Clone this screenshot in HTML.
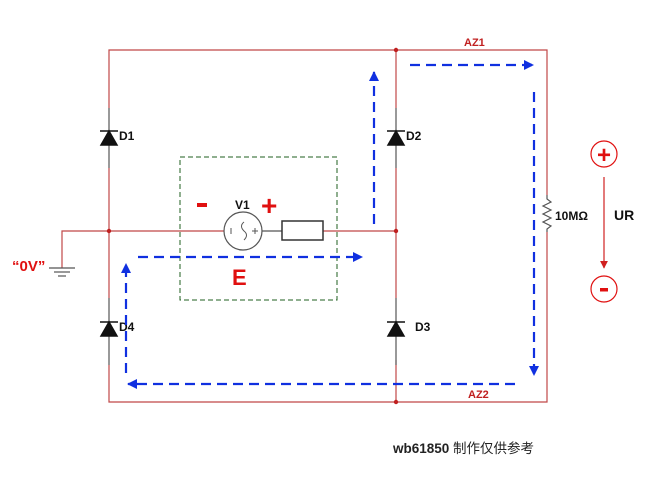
<!DOCTYPE html>
<html><head><meta charset="utf-8"><style>
html,body{margin:0;padding:0;background:#fff;}
svg{display:block;}
text{font-family:"Liberation Sans","Noto Sans CJK SC",sans-serif;}
</style></head><body>
<svg width="651" height="479" viewBox="0 0 651 479" xmlns="http://www.w3.org/2000/svg">
<defs>
<marker id="ab" viewBox="0 0 10 10" refX="9" refY="5" markerWidth="10" markerHeight="10" markerUnits="userSpaceOnUse" orient="auto"><path d="M0,0 L10,5 L0,10 z" fill="#1030e0"/></marker>
<marker id="ar" viewBox="0 0 10 10" refX="9" refY="5" markerWidth="8" markerHeight="8" markerUnits="userSpaceOnUse" orient="auto"><path d="M0,0 L10,5 L0,10 z" fill="#d02020"/></marker>
</defs>
<g stroke="#c04848" stroke-width="1.2" fill="none">
<polyline points="109,108 109,50 547,50 547,195"/>
<polyline points="547,232 547,402 109,402 109,365"/>
<line x1="396" y1="50" x2="396" y2="108"/>
<line x1="396" y1="168" x2="396" y2="298"/>
<line x1="396" y1="360" x2="396" y2="402"/>
<line x1="109" y1="168" x2="109" y2="298"/>
<polyline points="62,268 62,231 225,231"/>
<line x1="262" y1="231" x2="282" y2="231" stroke="#555"/>
<line x1="323" y1="231" x2="396" y2="231"/>
</g>
<g stroke="#777" stroke-width="1.5">
<line x1="109" y1="108" x2="109" y2="168"/>
<line x1="396" y1="108" x2="396" y2="168"/>
<line x1="109" y1="298" x2="109" y2="365"/>
<line x1="396" y1="298" x2="396" y2="365"/>
</g>
<g fill="#111" stroke="#111" stroke-width="1.5">
<path d="M101,145 L117,145 L109,131 z"/><line x1="100" y1="131" x2="118" y2="131"/>
<path d="M388,145 L404,145 L396,131 z"/><line x1="387" y1="131" x2="405" y2="131"/>
<path d="M101,336 L117,336 L109,322 z"/><line x1="100" y1="322" x2="118" y2="322"/>
<path d="M388,336 L404,336 L396,322 z"/><line x1="387" y1="322" x2="405" y2="322"/>
</g>
<g font-size="12" font-weight="bold" fill="#111">
<text x="119" y="140">D1</text>
<text x="406" y="140">D2</text>
<text x="119" y="331">D4</text>
<text x="415" y="331">D3</text>
<text x="235" y="209">V1</text>
<text x="555" y="220">10MΩ</text>
</g>
<g fill="#c02020">
<circle cx="109" cy="231" r="2.2"/><circle cx="396" cy="231" r="2.2"/>
<circle cx="396" cy="50" r="2.2"/><circle cx="396" cy="402" r="2.2"/>
</g>
<g stroke="#555" stroke-width="1.2">
<line x1="49" y1="268" x2="75" y2="268"/><line x1="54" y1="272" x2="70" y2="272"/><line x1="58" y1="276" x2="66" y2="276"/>
</g>
<circle cx="243" cy="231" r="19" fill="#fff" stroke="#555" stroke-width="1.2"/>
<path d="M244,222 q-5,4 0,9 q5,4 0,9" fill="none" stroke="#555" stroke-width="1"/>
<line x1="231" y1="228" x2="231" y2="234" stroke="#555"/>
<line x1="252" y1="231" x2="258" y2="231" stroke="#555"/><line x1="255" y1="228" x2="255" y2="234" stroke="#555"/>
<rect x="282" y="221" width="41" height="19" fill="#fff" stroke="#333" stroke-width="1.5"/>
<polyline points="547,195 547,199 551,202 543,206 551,210 543,214 551,218 543,222 551,226 547,229 547,232" fill="none" stroke="#555" stroke-width="1.2"/>
<rect x="180" y="157" width="157" height="143" fill="none" stroke="#1f5f1f" stroke-width="1" stroke-dasharray="5,3"/>
<g stroke="#1030e0" stroke-width="2.2" stroke-dasharray="10,6" fill="none">
<line x1="138" y1="257" x2="362" y2="257" marker-end="url(#ab)"/>
<line x1="126" y1="373" x2="126" y2="264" marker-end="url(#ab)"/>
<line x1="515" y1="384" x2="128" y2="384" marker-end="url(#ab)"/>
<line x1="374" y1="224" x2="374" y2="72" marker-end="url(#ab)"/>
<line x1="410" y1="65" x2="533" y2="65" marker-end="url(#ab)"/>
<line x1="534" y1="92" x2="534" y2="375" marker-end="url(#ab)"/>
</g>
<g fill="#e01010" font-weight="bold">
<rect x="197" y="203" width="10" height="4"/>
<text x="261" y="215" font-size="28">+</text>
<text x="232" y="285" font-size="22">E</text>
<text x="12" y="271" font-size="15">“0V”</text>
</g>
<g fill="#c02020" font-size="11" font-weight="bold">
<text x="464" y="46">AZ1</text>
<text x="468" y="398">AZ2</text>
</g>
<circle cx="604" cy="154" r="13" fill="none" stroke="#e01010" stroke-width="1.2"/>
<text x="604" y="163" font-size="24" font-weight="bold" fill="#e01010" text-anchor="middle">+</text>
<circle cx="604" cy="289" r="13" fill="none" stroke="#e01010" stroke-width="1.2"/>
<rect x="600" y="288" width="8" height="3.5" fill="#e01010"/>
<line x1="604" y1="177" x2="604" y2="268" stroke="#d02020" stroke-width="1.2" marker-end="url(#ar)"/>
<text x="614" y="220" font-size="14" font-weight="bold" fill="#111">UR</text>
<text x="393" y="453" font-size="13.5" fill="#222"><tspan font-weight="bold">wb61850</tspan> 制作仅供参考</text>
</svg>
</body></html>
